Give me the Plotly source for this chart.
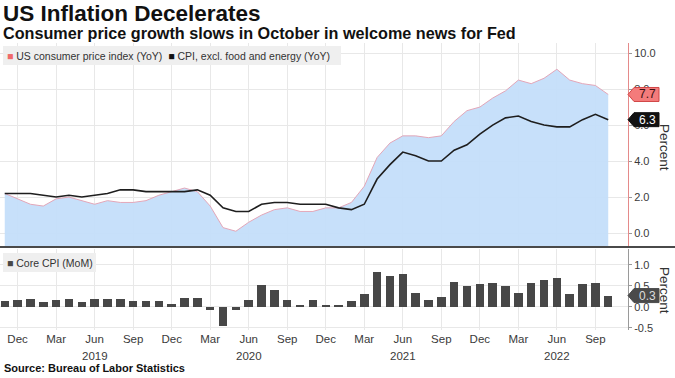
import plotly.graph_objects as go

# ---------------- data (monthly, Nov 2018 - Oct 2022) ----------------
months = [
    "2018-11", "2018-12",
    "2019-01", "2019-02", "2019-03", "2019-04", "2019-05", "2019-06",
    "2019-07", "2019-08", "2019-09", "2019-10", "2019-11", "2019-12",
    "2020-01", "2020-02", "2020-03", "2020-04", "2020-05", "2020-06",
    "2020-07", "2020-08", "2020-09", "2020-10", "2020-11", "2020-12",
    "2021-01", "2021-02", "2021-03", "2021-04", "2021-05", "2021-06",
    "2021-07", "2021-08", "2021-09", "2021-10", "2021-11", "2021-12",
    "2022-01", "2022-02", "2022-03", "2022-04", "2022-05", "2022-06",
    "2022-07", "2022-08", "2022-09", "2022-10",
]
cpi_yoy = [2.2, 1.9,
           1.6, 1.5, 1.9, 2.0, 1.8, 1.6, 1.8, 1.7, 1.7, 1.8, 2.1, 2.3,
           2.5, 2.3, 1.5, 0.3, 0.1, 0.6, 1.0, 1.3, 1.4, 1.2, 1.2, 1.4,
           1.4, 1.7, 2.6, 4.2, 5.0, 5.4, 5.4, 5.3, 5.4, 6.2, 6.8, 7.0,
           7.5, 7.9, 8.5, 8.3, 8.6, 9.1, 8.5, 8.3, 8.2, 7.7]
core_yoy = [2.2, 2.2,
            2.2, 2.1, 2.0, 2.1, 2.0, 2.1, 2.2, 2.4, 2.4, 2.3, 2.3, 2.3,
            2.3, 2.4, 2.1, 1.4, 1.2, 1.2, 1.6, 1.7, 1.7, 1.6, 1.6, 1.6,
            1.4, 1.3, 1.6, 3.0, 3.8, 4.5, 4.3, 4.0, 4.0, 4.6, 4.9, 5.5,
            6.0, 6.4, 6.5, 6.2, 6.0, 5.9, 5.9, 6.3, 6.6, 6.3]
core_mom = [0.14, 0.16,
            0.18, 0.12, 0.16, 0.18, 0.12, 0.20, 0.18, 0.20, 0.14, 0.14, 0.14, 0.08,
            0.21, 0.21, -0.07, -0.45, -0.07, 0.17, 0.53, 0.41, 0.17, 0.05, 0.17, 0.05,
            0.05, 0.13, 0.31, 0.83, 0.73, 0.79, 0.32, 0.17, 0.23, 0.60, 0.51, 0.55,
            0.57, 0.49, 0.32, 0.56, 0.63, 0.70, 0.31, 0.55, 0.56, 0.27]

tick_months = {"12": "Dec", "03": "Mar", "06": "Jun", "09": "Sep"}
year_label_month = "06"
top_ticks = [0, 2, 4, 6, 8, 10]
bottom_ticks = [-0.5, 0, 0.5, 1.0]

# ---------------- geometry helpers ----------------
W, H = 675, 378
ML, MR, MT, MB = 0, 47, 43, 48
PW, PH = W - ML - MR, H - MT - MB


def pyp(pix):  # pixel y -> paper y
    return (H - MB - pix) / PH


def pxp(pix):  # pixel x -> paper x
    return (pix - ML) / PW


x = list(range(len(months)))
tickvals, ticktext, year_pos, year_txt = [], [], [], []
for i, m in enumerate(months):
    yy, mm = m.split("-")
    if mm in tick_months:
        tickvals.append(i)
        ticktext.append(tick_months[mm])
    if mm == year_label_month:
        year_pos.append(i)
        year_txt.append(yy)

FONT = "Liberation Sans, Arial, sans-serif"
TOP_MIN, TOP_MAX = -0.72, 10.56
BOT_MIN, BOT_MAX = -0.55, 1.38
GRID = "#e8e8e8"

fig = go.Figure()
# baseline for the area fill (bottom of panel)
fig.add_trace(go.Scatter(x=x, y=[TOP_MIN] * len(x), mode="lines",
                         line=dict(width=0), hoverinfo="skip", showlegend=False,
                         xaxis="x", yaxis="y"))
fig.add_trace(go.Scatter(x=x, y=cpi_yoy, mode="lines", fill="tonexty",
                         fillcolor="rgba(196,222,250,0.95)",
                         line=dict(color="#e3a6b8", width=1),
                         name="US consumer price index (YoY)", showlegend=False,
                         xaxis="x", yaxis="y"))
fig.add_trace(go.Scatter(x=x, y=core_yoy, mode="lines",
                         line=dict(color="#1e1e1e", width=1.6),
                         name="CPI, excl. food and energy (YoY)", showlegend=False,
                         xaxis="x", yaxis="y"))
fig.add_trace(go.Bar(x=x, y=core_mom, width=0.66, marker=dict(color="#474747", line=dict(width=0)),
                     name="Core CPI (MoM)", showlegend=False, xaxis="x2", yaxis="y2"))

xr = [-0.37, 48.54]
fig.update_layout(
    width=W, height=H,
    margin=dict(l=ML, r=MR, t=MT, b=MB),
    paper_bgcolor="white", plot_bgcolor="white",
    font=dict(family=FONT, size=11, color="#444"),
    xaxis=dict(domain=[0, 1], anchor="y", range=xr, tickvals=tickvals, showticklabels=False,
               showgrid=True, gridcolor=GRID, zeroline=False, showline=False),
    xaxis2=dict(domain=[0, 1], anchor="y2", range=xr, matches="x", tickvals=tickvals,
                ticktext=ticktext, showgrid=True, gridcolor=GRID, zeroline=False,
                showline=False, ticks="", tickfont=dict(size=11.5, color="#3a3a3a")),
    yaxis=dict(domain=[pyp(246), 1], range=[TOP_MIN, TOP_MAX], side="right",
               tickvals=top_ticks, ticktext=[f"{v:.1f}" for v in top_ticks],
               showgrid=True, gridcolor=GRID, zeroline=False,
               showline=True, linecolor="#e58a8a", linewidth=1,
               ticks="outside", ticklen=3, tickcolor="#999", tickfont=dict(size=11, color="#3a3a3a")),
    yaxis2=dict(domain=[0, pyp(249)], range=[BOT_MIN, BOT_MAX], side="right",
                tickvals=bottom_ticks, ticktext=[f"{v:.1f}" for v in bottom_ticks],
                showgrid=True, gridcolor=GRID, zeroline=False,
                showline=True, linecolor="#9a9a9a", linewidth=1,
                ticks="outside", ticklen=3, tickcolor="#999", tickfont=dict(size=11, color="#3a3a3a")),
    bargap=0,
)

shapes = []
annotations = []

# separator between panels
shapes.append(dict(type="line", xref="paper", yref="paper", x0=0, x1=pxp(W), y0=pyp(247), y1=pyp(247),
                   line=dict(color="#4a4a4a", width=2)))

# legends (top and bottom)
shapes.append(dict(type="rect", xref="paper", yref="paper", x0=pxp(3), x1=pxp(341),
                   y0=pyp(65), y1=pyp(46), fillcolor="#efefef", line=dict(width=0), layer="above"))
shapes.append(dict(type="rect", xref="paper", yref="paper", x0=pxp(3), x1=pxp(96),
                   y0=pyp(272), y1=pyp(253), fillcolor="#efefef", line=dict(width=0), layer="above"))
annotations.append(dict(xref="paper", yref="paper", x=pxp(5), y=pyp(56), xanchor="left", yanchor="middle",
                        showarrow=False, font=dict(size=10.5, color="#333", family=FONT),
                        text="<span style='color:#f06a6a'>■</span> US consumer price index (YoY)  "
                             "<span style='color:#111'>■</span> CPI, excl. food and energy (YoY)"))
annotations.append(dict(xref="paper", yref="paper", x=pxp(5), y=pyp(263), xanchor="left", yanchor="middle",
                        showarrow=False, font=dict(size=10.5, color="#333", family=FONT),
                        text="<span style='color:#474747'>■</span> Core CPI (MoM)"))

# year labels under the month ticks
for xp, t in zip(year_pos, year_txt):
    annotations.append(dict(xref="x2", yref="paper", x=xp, y=pyp(356), xanchor="center", yanchor="middle",
                            showarrow=False, text=t, font=dict(size=11.5, color="#3a3a3a", family=FONT)))

# value tags on the right axis
tag_path = "M0,0 L6,7 L31,7 L31,-7 L6,-7 Z"
tags = [
    ("y", cpi_yoy[-1], "#f47b7b", "#d04545", "#3a1010"),
    ("y", core_yoy[-1], "#111111", "#111111", "#ffffff"),
    ("y2", core_mom[-1], "#4a4a4a", "#4a4a4a", "#dddddd"),
]
for yref, val, fill, edge, tcol in tags:
    shapes.append(dict(type="path", xref="paper", yref=yref, xsizemode="pixel", ysizemode="pixel",
                       xanchor=1, yanchor=val, path=tag_path, fillcolor=fill,
                       line=dict(color=edge, width=1), layer="above"))
    annotations.append(dict(xref="paper", yref=yref, x=1, y=val, xshift=9, xanchor="left",
                            yanchor="middle", showarrow=False, text=f"{val:.1f}",
                            font=dict(size=12, color=tcol, family=FONT)))

# axis titles
for yy in (pyp(147), pyp(290)):
    annotations.append(dict(xref="paper", yref="paper", x=pxp(665), y=yy, xanchor="center",
                            yanchor="middle", showarrow=False, textangle=90, text="Percent",
                            font=dict(size=13.5, color="#333", family=FONT)))

# titles and source
annotations.append(dict(xref="paper", yref="paper", x=pxp(1), y=pyp(14), xanchor="left", yanchor="middle",
                        showarrow=False, text="<b>US Inflation Decelerates</b>",
                        font=dict(size=22.5, color="#111", family=FONT)))
annotations.append(dict(xref="paper", yref="paper", x=pxp(1), y=pyp(33), xanchor="left", yanchor="middle",
                        showarrow=False, text="<b>Consumer price growth slows in October in welcome news for Fed</b>",
                        font=dict(size=16.2, color="#111", family=FONT)))
annotations.append(dict(xref="paper", yref="paper", x=pxp(2), y=pyp(368), xanchor="left", yanchor="middle",
                        showarrow=False, text="<b>Source: Bureau of Labor Statistics</b>",
                        font=dict(size=11, color="#111", family=FONT)))

fig.update_layout(shapes=shapes, annotations=annotations)
fig.write_html("out.html", config={"displayModeBar": False},
               post_script="document.body.style.margin='0';")
